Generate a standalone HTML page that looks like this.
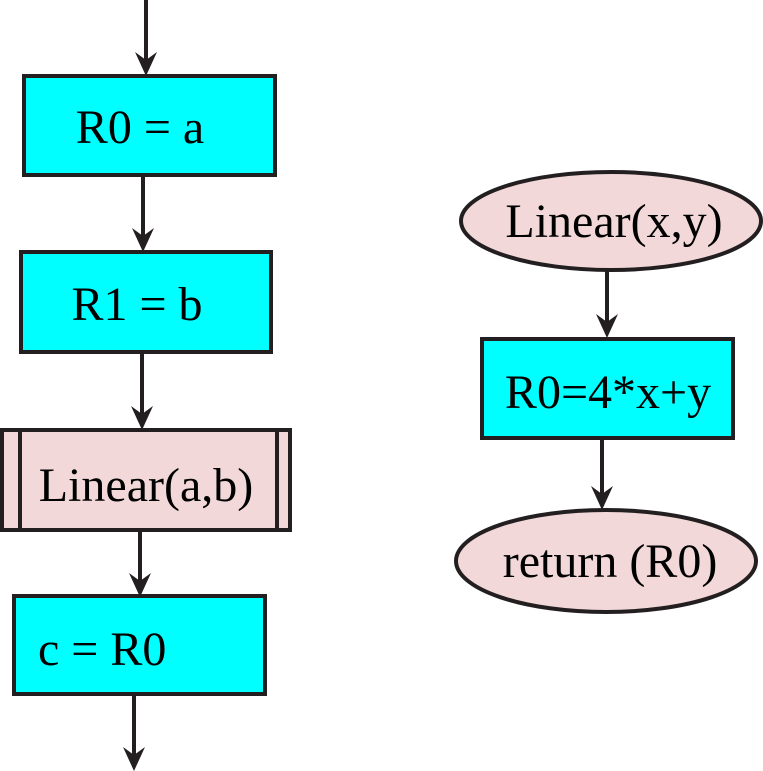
<!DOCTYPE html>
<html><head><meta charset="utf-8"><style>html,body{margin:0;padding:0;background:#fff}svg{display:block}</style></head>
<body>
<svg width="763" height="771" viewBox="0 0 763 771" xmlns="http://www.w3.org/2000/svg" font-family="Liberation Serif, serif" font-size="48">
<defs>
<marker id="a" markerUnits="userSpaceOnUse" markerWidth="24" markerHeight="28" refX="12" refY="26" orient="auto-start-reverse" viewBox="0 0 24 28">
</marker>
</defs>
<g stroke="#231f20" stroke-width="4" fill="none">
<line x1="146" y1="0" x2="146" y2="60"/>
<line x1="143" y1="175" x2="143" y2="236"/>
<line x1="142" y1="352" x2="142" y2="414"/>
<line x1="140" y1="530" x2="140" y2="581"/>
<line x1="134" y1="694" x2="134" y2="755"/>
<line x1="607" y1="270" x2="607" y2="322"/>
<line x1="602" y1="438" x2="602" y2="494"/>
</g>
<g fill="#231f20">
<path d="M146 76 L135 52 L146 60 L157 52 Z"/>
<path d="M143 252 L132 228 L143 236 L154 228 Z"/>
<path d="M142 430 L131 406 L142 414 L153 406 Z"/>
<path d="M140 597 L129 573 L140 581 L151 573 Z"/>
<path d="M134 771 L123 747 L134 755 L145 747 Z"/>
<path d="M607 338 L596 314 L607 322 L618 314 Z"/>
<path d="M602 510 L591 486 L602 494 L613 486 Z"/>
</g>
<g stroke="#231f20" stroke-width="4">
<rect x="24" y="76" width="251" height="99" fill="#00ffff"/>
<rect x="21" y="252" width="250" height="100" fill="#00ffff"/>
<rect x="2" y="430" width="288" height="100" fill="#f2d8d8"/>
<line x1="20" y1="430" x2="20" y2="530"/>
<line x1="277" y1="430" x2="277" y2="530"/>
<rect x="14" y="596" width="251" height="98" fill="#00ffff"/>
<ellipse cx="611" cy="221" rx="150" ry="49" fill="#f2d8d8"/>
<rect x="482" y="339" width="251" height="99" fill="#00ffff"/>
<ellipse cx="606" cy="561" rx="150" ry="51" fill="#f2d8d8"/>
</g>
<g fill="#000">
<text x="140" y="143" text-anchor="middle">R0 = a</text>
<text x="137" y="320" text-anchor="middle">R1 = b</text>
<text x="146" y="501" text-anchor="middle">Linear(a,b)</text>
<text x="38" y="665">c = R0</text>
<text x="614" y="237" text-anchor="middle">Linear(x,y)</text>
<text x="608" y="408" text-anchor="middle">R0=4*x+y</text>
<text x="610" y="577" text-anchor="middle">return (R0)</text>
</g>
</svg>
</body></html>
